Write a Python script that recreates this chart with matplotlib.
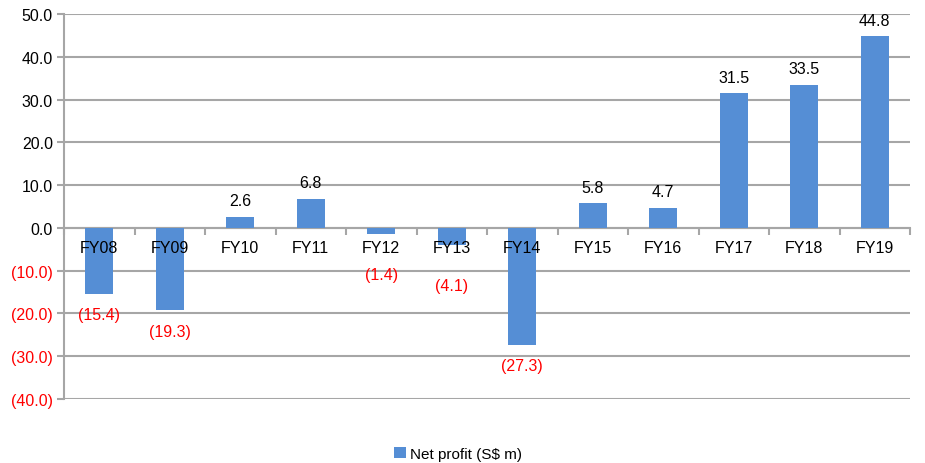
import matplotlib.pyplot as plt
import numpy as np
from matplotlib.ticker import FixedLocator, NullFormatter

plt.rcParams["font.family"] = ["Liberation Sans", "DejaVu Sans"]

# Data
years = ["FY08", "FY09", "FY10", "FY11", "FY12", "FY13", "FY14",
         "FY15", "FY16", "FY17", "FY18", "FY19"]
net_profit = [-15.4, -19.3, 2.6, 6.8, -1.4, -4.1, -27.3,
              5.8, 4.7, 31.5, 33.5, 44.8]
y_ticks = [-40, -30, -20, -10, 0, 10, 20, 30, 40, 50]

bar_color = "#558ED5"
grid_color = "#A6A6A6"
fs = 11.5

fig = plt.figure(figsize=(9.25, 4.64), dpi=100)
ax = fig.add_axes([0.0692, 0.138, 0.9146, 0.8297])

x = np.arange(len(years))
ax.bar(x, net_profit, width=0.4, color=bar_color, zorder=3,
       label="Net profit (S$ m)")

ax.set_xlim(-0.5, len(years) - 0.5)
ax.set_ylim(-40, 50)
ax.set_yticks(y_ticks)
ax.set_yticklabels([f"{v:.1f}" if v >= 0 else f"({-v:.1f})" for v in y_ticks])
for lab, v in zip(ax.get_yticklabels(), y_ticks):
    lab.set_color("black" if v >= 0 else "#FF0000")
ax.tick_params(axis="y", length=5, color=grid_color, width=1.5,
               labelsize=fs, pad=3)
ax.yaxis.grid(True, color=grid_color, linewidth=1.5, zorder=0)
ax.set_axisbelow(True)

# x axis sits on the zero line, ticks between categories
ax.spines["bottom"].set_position(("data", 0))
ax.spines["bottom"].set_color(grid_color)
ax.spines["bottom"].set_linewidth(1.5)
ax.spines["left"].set_color(grid_color)
ax.spines["left"].set_linewidth(1.5)
ax.spines["top"].set_visible(False)
ax.spines["right"].set_visible(False)
ax.xaxis.set_major_locator(FixedLocator(np.arange(-0.5, len(years), 1.0)))
ax.xaxis.set_major_formatter(NullFormatter())
ax.tick_params(axis="x", which="major", length=5, color=grid_color, width=1.5)

# category labels drawn over the bars
for xi, name in zip(x, years):
    ax.annotate(name, (xi, 0), xytext=(0, -14), textcoords="offset points",
                ha="center", va="center", fontsize=fs, color="black",
                zorder=6, annotation_clip=False)

# value labels
for xi, v in zip(x, net_profit):
    if v >= 0:
        ax.annotate(f"{v:.1f}", (xi, v), xytext=(0, 6), textcoords="offset points",
                    ha="center", va="bottom", fontsize=fs, color="black")
    else:
        off = -15 if v < -10 else -29
        ax.annotate(f"({-v:.1f})", (xi, v), xytext=(0, off), textcoords="offset points",
                    ha="center", va="center", fontsize=fs, color="#FF0000")

fig.legend(loc="lower center", bbox_to_anchor=(0.495, -0.025), frameon=False,
           fontsize=11, handlelength=0.8, handleheight=0.8, handletextpad=0.2)

fig.savefig("out.png", dpi=100)
